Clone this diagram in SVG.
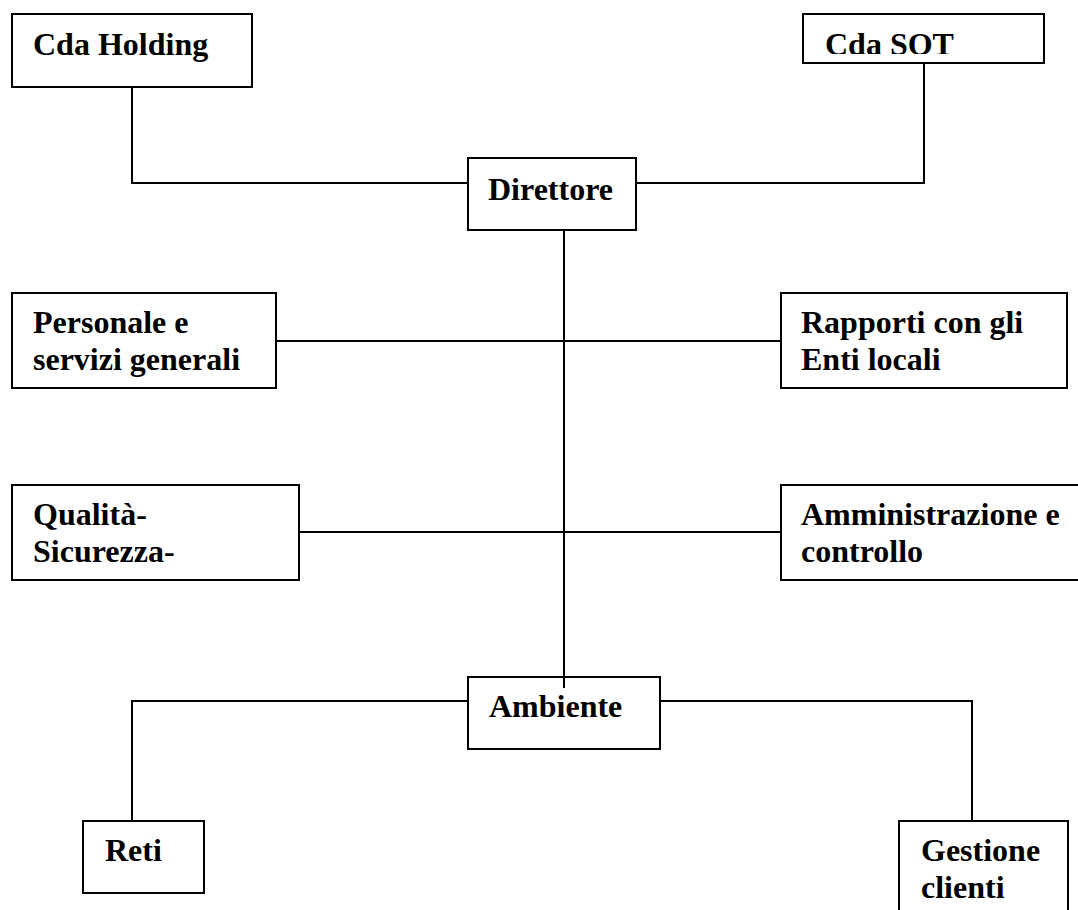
<svg xmlns="http://www.w3.org/2000/svg" width="1078" height="910" viewBox="0 0 1078 910">
<style>
.box{fill:#fff;stroke:#000;stroke-width:2}
.lbl{font-family:"Liberation Serif","Times New Roman",serif;font-weight:bold;font-size:32px;fill:#000}
.conn{fill:none;stroke:#000;stroke-width:2}
</style>
<defs>
<clipPath id="sotclip"><rect x="804" y="15" width="239" height="39"/></clipPath>
</defs>
<rect width="1078" height="910" fill="#fff"/>
<g id="connectors">
<polyline class="conn" points="132,87 132,183 468,183"/>
<polyline class="conn" points="924,63 924,183 636,183"/>
<line class="conn" x1="564" y1="230" x2="564" y2="688"/>
<line class="conn" x1="276" y1="341" x2="781" y2="341"/>
<line class="conn" x1="299" y1="532" x2="781" y2="532"/>
<polyline class="conn" points="468,701 132,701 132,821"/>
<polyline class="conn" points="660,701 972,701 972,821"/>
</g>
<g id="cda-holding">
<rect class="box" x="12" y="14" width="240" height="73"/>
<text class="lbl" x="33" y="55">Cda Holding</text>
</g>
<g id="cda-sot">
<rect class="box" x="803" y="14" width="241" height="49"/>
<text class="lbl" x="825" y="55" clip-path="url(#sotclip)">Cda SOT</text>
</g>
<g id="direttore">
<rect class="box" x="468" y="158" width="168" height="72"/>
<text class="lbl" x="488" y="200">Direttore</text>
</g>
<g id="personale">
<rect class="box" x="12" y="293" width="264" height="95"/>
<text class="lbl" x="33" y="333">Personale e</text>
<text class="lbl" x="33" y="370">servizi generali</text>
</g>
<g id="rapporti">
<rect class="box" x="781" y="293" width="286" height="95"/>
<text class="lbl" x="801" y="333">Rapporti con gli</text>
<text class="lbl" x="801" y="370">Enti locali</text>
</g>
<g id="qualita">
<rect class="box" x="12" y="485" width="287" height="95"/>
<text class="lbl" x="33" y="525">Qualità-</text>
<text class="lbl" x="33" y="562">Sicurezza-</text>
</g>
<g id="amministrazione">
<rect class="box" x="781" y="485" width="310" height="95"/>
<text class="lbl" x="801" y="525">Amministrazione e</text>
<text class="lbl" x="801" y="562">controllo</text>
</g>
<g id="ambiente">
<rect class="box" x="468" y="677" width="192" height="72"/>
<line class="conn" x1="564" y1="677" x2="564" y2="688"/>
<text class="lbl" x="489" y="717">Ambiente</text>
</g>
<g id="reti">
<rect class="box" x="83" y="821" width="121" height="72"/>
<text class="lbl" x="105" y="861">Reti</text>
</g>
<g id="gestione">
<rect class="box" x="899" y="821" width="169" height="110"/>
<text class="lbl" x="921" y="861">Gestione</text>
<text class="lbl" x="921" y="898">clienti</text>
</g>
</svg>
